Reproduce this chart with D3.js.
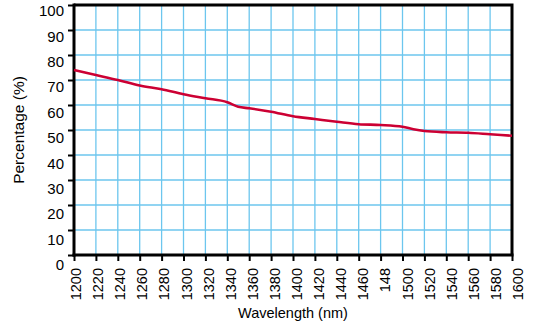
<!DOCTYPE html>
<html>
<head>
<meta charset="utf-8">
<script src="https://cdn.jsdelivr.net/npm/d3@7"></script>
<style>
  html, body { margin: 0; padding: 0; background: #fff; }
  svg { display: block; font-family: "Liberation Sans", Arial, sans-serif; }
</style>
</head>
<body>
<svg id="chart" width="533" height="325"></svg>
<script>
// ---- data ----
const wavelengths = [1200, 1220, 1240, 1260, 1280, 1300, 1320, 1340, 1350, 1360, 1380, 1400, 1420, 1440, 1460, 1480, 1500, 1510, 1520, 1540, 1560, 1580, 1600];
const percentages = [74.0, 72.0, 70.0, 67.8, 66.3, 64.3, 62.7, 61.1, 59.3, 58.7, 57.3, 55.5, 54.4, 53.3, 52.3, 52.0, 51.3, 50.3, 49.6, 49.1, 48.9, 48.3, 47.7];
const xTickValues = [1200, 1220, 1240, 1260, 1280, 1300, 1320, 1340, 1360, 1380, 1400, 1420, 1440, 1460, 1480, 1500, 1520, 1540, 1560, 1580, 1600];
const xTickLabels = ["1200", "1220", "1240", "1260", "1280", "1300", "1320", "1340", "1360", "1380", "1400", "1420", "1440", "1460", "148", "1500", "1520", "1540", "1560", "1580", "1600"];
const yTickValues = [0, 10, 20, 30, 40, 50, 60, 70, 80, 90, 100];
const xTitle = "Wavelength (nm)";
const yTitle = "Percentage (%)";

// ---- layout ----
const svg = d3.select("#chart");
const mLeft = 74, mRight = 512, mTop = 5, mBottom = 255;

const x = d3.scaleLinear().domain([1200, 1600]).range([mLeft, mRight]);
const y = d3.scaleLinear().domain([0, 100]).range([mBottom, mTop]);
// label placement scales (labels sit slightly offset from their ticks in the reference)
const xLab = d3.scaleLinear().domain([1200, 1600]).range([mLeft + 2, mRight + 6]);
const yLab = d3.scaleLinear().domain([0, 100]).range([mBottom + 10, mTop + 6]);

const gridColor = "#6cc6ee";

// grid
svg.append("g").selectAll("line").data(xTickValues.slice(1, -1)).join("line")
  .attr("x1", d => x(d)).attr("x2", d => x(d))
  .attr("y1", mTop).attr("y2", mBottom)
  .attr("stroke", gridColor).attr("stroke-width", 1.3);
svg.append("g").selectAll("line").data(yTickValues.slice(1, -1)).join("line")
  .attr("x1", mLeft).attr("x2", mRight)
  .attr("y1", d => y(d)).attr("y2", d => y(d))
  .attr("stroke", gridColor).attr("stroke-width", 1.3);

// frame (top and right)
svg.append("path")
  .attr("d", `M${mLeft},${mTop}H${mRight}V${mBottom}`)
  .attr("fill", "none").attr("stroke", "#000").attr("stroke-width", 3);

// axes
const xAxis = d3.axisBottom(x).tickValues(xTickValues).tickSize(6).tickFormat("");
const gx = svg.append("g").attr("transform", `translate(0,${mBottom})`).call(xAxis);
gx.select(".domain").attr("stroke-width", 3).attr("d", `M${mLeft - 1.5},0H${mRight + 1.5}`);
gx.selectAll(".tick line").attr("stroke-width", 2);

const yAxis = d3.axisLeft(y).tickValues(yTickValues).tickSize(6).tickFormat("");
const gy = svg.append("g").attr("transform", `translate(${mLeft},0)`).call(yAxis);
gy.select(".domain").attr("stroke-width", 3).attr("d", `M0,${mTop - 1.5}V${mBottom + 1.5}`);
gy.selectAll(".tick line").attr("stroke-width", 2);

// tick labels
svg.append("g").selectAll("text").data(xTickValues).join("text")
  .attr("transform", d => `translate(${xLab(d)},268) rotate(-90)`)
  .attr("text-anchor", "end")
  .attr("dy", "0.35em")
  .attr("font-size", 14.5)
  .attr("fill", "#000")
  .text((d, i) => xTickLabels[i]);

svg.append("g").selectAll("text").data(yTickValues).join("text")
  .attr("x", 64)
  .attr("y", d => yLab(d))
  .attr("dy", "0.35em")
  .attr("text-anchor", "end")
  .attr("font-size", 15)
  .attr("fill", "#000")
  .text(d => d);

// titles
svg.append("text")
  .attr("x", 293).attr("y", 318)
  .attr("text-anchor", "middle")
  .attr("font-size", 14.5)
  .text(xTitle);
svg.append("text")
  .attr("transform", "translate(24,130) rotate(-90)")
  .attr("text-anchor", "middle")
  .attr("font-size", 15.5)
  .text(yTitle);

// curve
const line = d3.line()
  .x((d, i) => x(wavelengths[i]))
  .y(d => y(d))
  .curve(d3.curveMonotoneX);
svg.append("path")
  .datum(percentages)
  .attr("d", line)
  .attr("fill", "none")
  .attr("stroke", "#cc0033")
  .attr("stroke-width", 2.6)
  .attr("stroke-linejoin", "round");
</script>
</body>
</html>
